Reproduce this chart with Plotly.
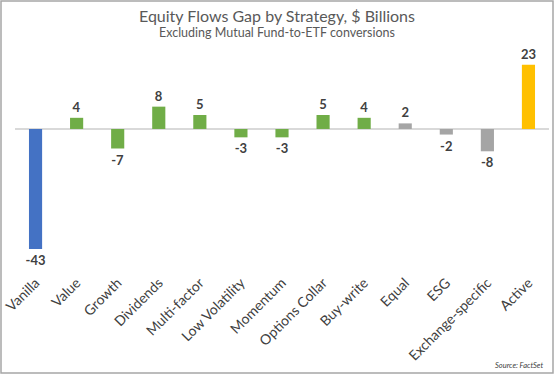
import plotly.graph_objects as go

categories = ["Vanilla", "Value", "Growth", "Dividends", "Multi-factor", "Low Volatility",
              "Momentum", "Options Collar", "Buy-write", "Equal", "ESG", "Exchange-specific", "Active"]
values = [-43, 4, -7, 8, 5, -3, -3, 5, 4, 2, -2, -8, 23]
colors = ["#4472C4"] + ["#70AD47"] * 8 + ["#A5A5A5"] * 3 + ["#FFC000"]

W, H = 554, 374
ml, mr, mt, mb = 15, 5, 50, 103
pw, ph = W - ml - mr, H - mt - mb

fig = go.Figure(go.Bar(
    x=categories, y=values, marker=dict(color=colors, line=dict(width=0)),
    width=0.32,
    text=[str(v) for v in values], textposition="outside", constraintext="none",
    textfont=dict(family="Lato, Open Sans, sans-serif", size=13, color="#404040"),
    texttemplate="<b>%{text}</b>", cliponaxis=False,
))

fig.update_layout(
    width=W, height=H, margin=dict(l=ml, r=mr, t=mt, b=mb, autoexpand=False),
    paper_bgcolor="white", plot_bgcolor="white", showlegend=False,
    font=dict(family="Lato, Open Sans, sans-serif", color="#404040"),
    xaxis=dict(tickangle=-45, tickfont=dict(size=14, color="#404040"), showline=False,
               showgrid=False, ticks="", range=[-0.5, 12.5], automargin=False),
    yaxis=dict(range=[-50.9, 28.3], showticklabels=False, showgrid=False, automargin=False,
               zeroline=True, zerolinecolor="#D9D9D9", zerolinewidth=1.5),
    annotations=[
        dict(text="Equity Flows Gap by Strategy, $ Billions", xref="paper", yref="paper",
             x=0.5 - (ml - mr) / 2 / pw, y=1 + (mt - 15) / ph, showarrow=False,
             font=dict(size=16, color="#595959"), xanchor="center", yanchor="middle"),
        dict(text="Excluding Mutual Fund-to-ETF conversions", xref="paper", yref="paper",
             x=0.5 - (ml - mr) / 2 / pw, y=1 + (mt - 32) / ph, showarrow=False,
             font=dict(size=12.5, color="#595959"), xanchor="center", yanchor="middle"),
        dict(text="<i>Source: FactSet</i>", xref="paper", yref="paper",
             x=1 - 4 / pw, y=-(mb - 9) / ph, showarrow=False,
             font=dict(size=7.5, color="#404040"), xanchor="right", yanchor="middle"),
    ],
    shapes=[dict(type="rect", xref="paper", yref="paper",
                 x0=-(ml - 1) / pw, x1=1 + (mr - 1) / pw,
                 y0=-(mb - 1) / ph, y1=1 + (mt - 1) / ph,
                 line=dict(color="#A6A6A6", width=1.5))],
)

fig.write_html("out.html", config={"displayModeBar": False},
               post_script="document.body.style.margin='0px';document.body.style.overflow='hidden';")
